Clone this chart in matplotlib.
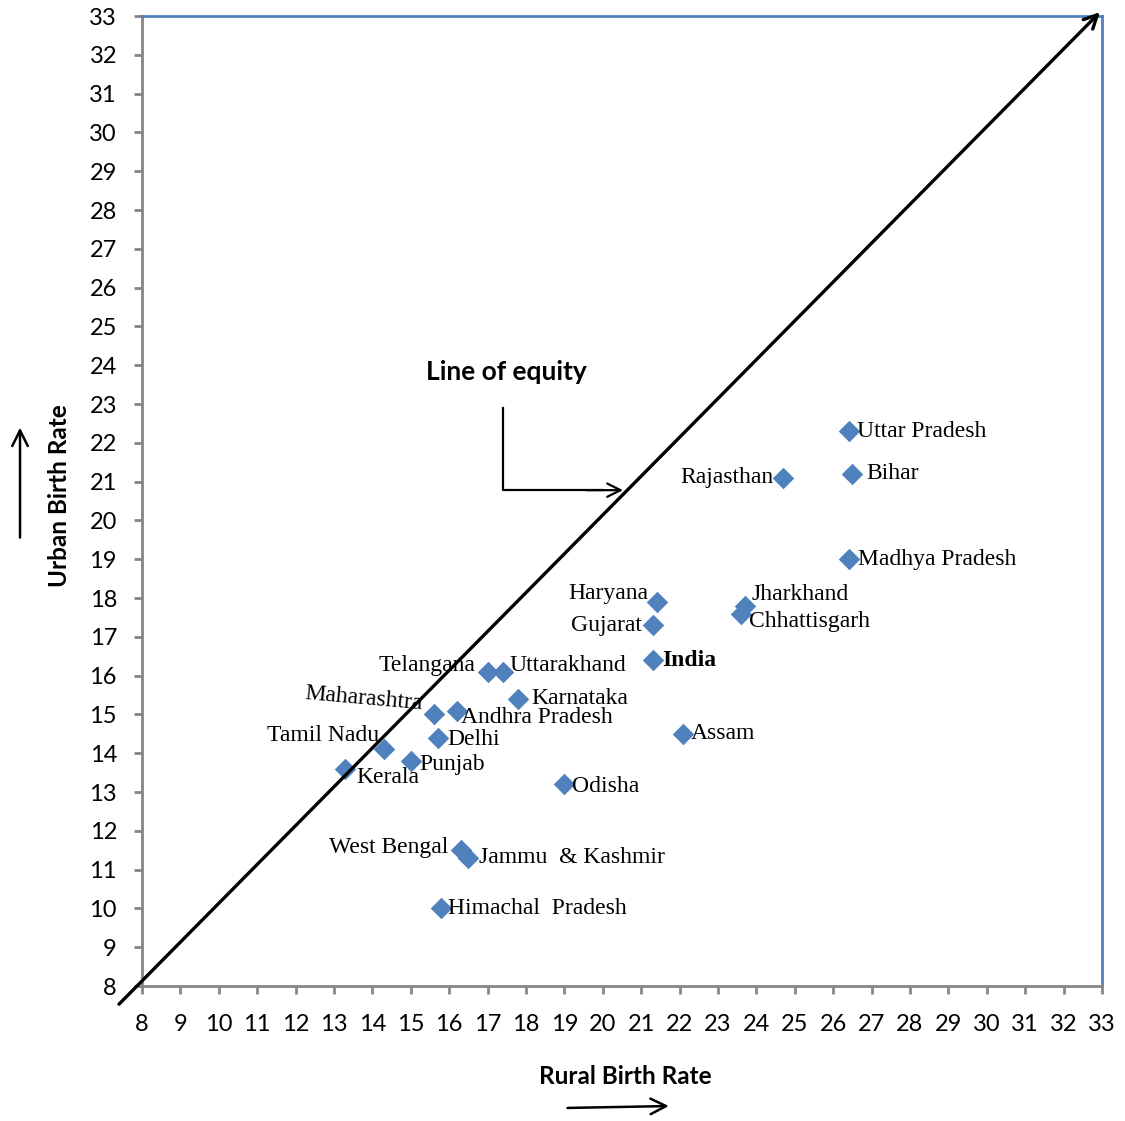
import numpy as np
import matplotlib
matplotlib.use("Agg")
from matplotlib import pyplot as plt

# Data: rural vs urban birth rate by state
states = ["Uttar Pradesh", "Bihar", "Rajasthan", "Madhya Pradesh", "Jharkhand",
          "Chhattisgarh", "Haryana", "Gujarat", "India", "Assam", "Telangana",
          "Uttarakhand", "Karnataka", "Andhra Pradesh", "Maharashtra", "Delhi",
          "Tamil Nadu", "Punjab", "Kerala", "Odisha", "West Bengal",
          "Jammu  & Kashmir", "Himachal  Pradesh"]
rural = [26.4, 26.5, 24.7, 26.4, 23.7, 23.6, 21.4, 21.3, 21.3, 22.1, 17.0,
         17.4, 17.8, 16.2, 15.6, 15.7, 14.3, 15.0, 13.3, 19.0, 16.3, 16.5, 15.8]
urban = [22.3, 21.2, 21.1, 19.0, 17.8, 17.6, 17.9, 17.3, 16.4, 14.5, 16.1,
         16.1, 15.4, 15.1, 15.0, 14.4, 14.1, 13.8, 13.6, 13.2, 11.5, 11.3, 10.0]

# label offsets in pixels (dx, dy, ha)
offs = {
    "Uttar Pradesh": (8, 0, "left"), "Bihar": (14, 0, "left"),
    "Rajasthan": (-10, 0, "right"), "Madhya Pradesh": (9, 0, "left"),
    "Jharkhand": (7, 11, "left"), "Chhattisgarh": (8, -8, "left"),
    "Haryana": (-8, 8, "right"), "Gujarat": (-11, 0, "right"),
    "India": (10, 0, "left"), "Assam": (7, 0, "left"),
    "Telangana": (-12, 6, "right"), "Uttarakhand": (7, 6, "left"),
    "Karnataka": (13, 0, "left"), "Andhra Pradesh": (4, -7, "left"),
    "Maharashtra": (-11, 11, "right"), "Delhi": (10, -2, "left"),
    "Tamil Nadu": (-5, 14, "right"), "Punjab": (9, -4, "left"),
    "Kerala": (11, -9, "left"), "Odisha": (8, -2, "left"),
    "West Bengal": (-12, 3, "right"), "Jammu  & Kashmir": (11, 0, "left"),
    "Himachal  Pradesh": (7, 0, "left"),
}

fig = plt.figure(figsize=(11.25, 11.21), dpi=100)
ax = fig.add_axes([0.1262, 0.1204, 0.8533, 0.8653])

ax.scatter(rural, urban, marker="D", s=120, color="#4f81bd", zorder=3, linewidths=0)

for s, x, y in zip(states, rural, urban):
    dx, dy, ha = offs[s]
    ax.annotate(s, (x, y), xytext=(dx, dy), textcoords="offset pixels",
                ha=ha, va="center", fontsize=17, family="Liberation Serif",
                fontweight="bold" if s == "India" else "normal",
                rotation=-5 if s == "Maharashtra" else 0,
                rotation_mode="anchor")

# line of equity
ax.annotate("", xy=(33.0, 33.15), xytext=(7.35, 7.48), annotation_clip=False,
            arrowprops=dict(arrowstyle="->", color="black", lw=2.4, mutation_scale=24))
ax.plot([17.4, 17.4, 20.0], [22.9, 20.78, 20.78], color="black", lw=1.6, clip_on=False)
ax.annotate("", xy=(20.6, 20.78), xytext=(19.5, 20.78),
            arrowprops=dict(arrowstyle="->", color="black", lw=1.6, mutation_scale=24))
ax.text(17.5, 23.82, "Line of equity", ha="center", va="center", fontsize=19,
        fontweight="bold", family="Lato")

ax.set_xlim(8, 33)
ax.set_ylim(8, 33)
ax.set_xticks(np.arange(8, 34))
ax.set_yticks(np.arange(8, 34))
ax.tick_params(direction="out", length=6, width=2, color="#868686", labelsize=17)
ax.tick_params(axis="x", pad=14)
ax.tick_params(axis="y", pad=12)
for lab in ax.get_xticklabels() + ax.get_yticklabels():
    lab.set_family("Lato")
for side in ["left", "bottom"]:
    ax.spines[side].set_color("#868686")
    ax.spines[side].set_linewidth(2)
for side in ["top", "right"]:
    ax.spines[side].set_color("#4f81bd")
    ax.spines[side].set_linewidth(2)

fig.text(0.0533, 0.558, "Urban Birth Rate", rotation=90, ha="center", va="center",
         fontsize=17.5, fontweight="bold", family="Lato")
fig.text(0.556, 0.0393, "Rural Birth Rate", ha="center", va="center",
         fontsize=17.5, fontweight="bold", family="Lato")
fig.add_artist(matplotlib.patches.FancyArrowPatch((0.0178, 0.518), (0.0178, 0.621),
               transform=fig.transFigure, arrowstyle="->", mutation_scale=28, lw=1.8, color="black"))
fig.add_artist(matplotlib.patches.FancyArrowPatch((0.502, 0.0116), (0.597, 0.0134),
               transform=fig.transFigure, arrowstyle="->", mutation_scale=28, lw=1.8, color="black"))

fig.savefig("out.png", dpi=100, facecolor="white")
